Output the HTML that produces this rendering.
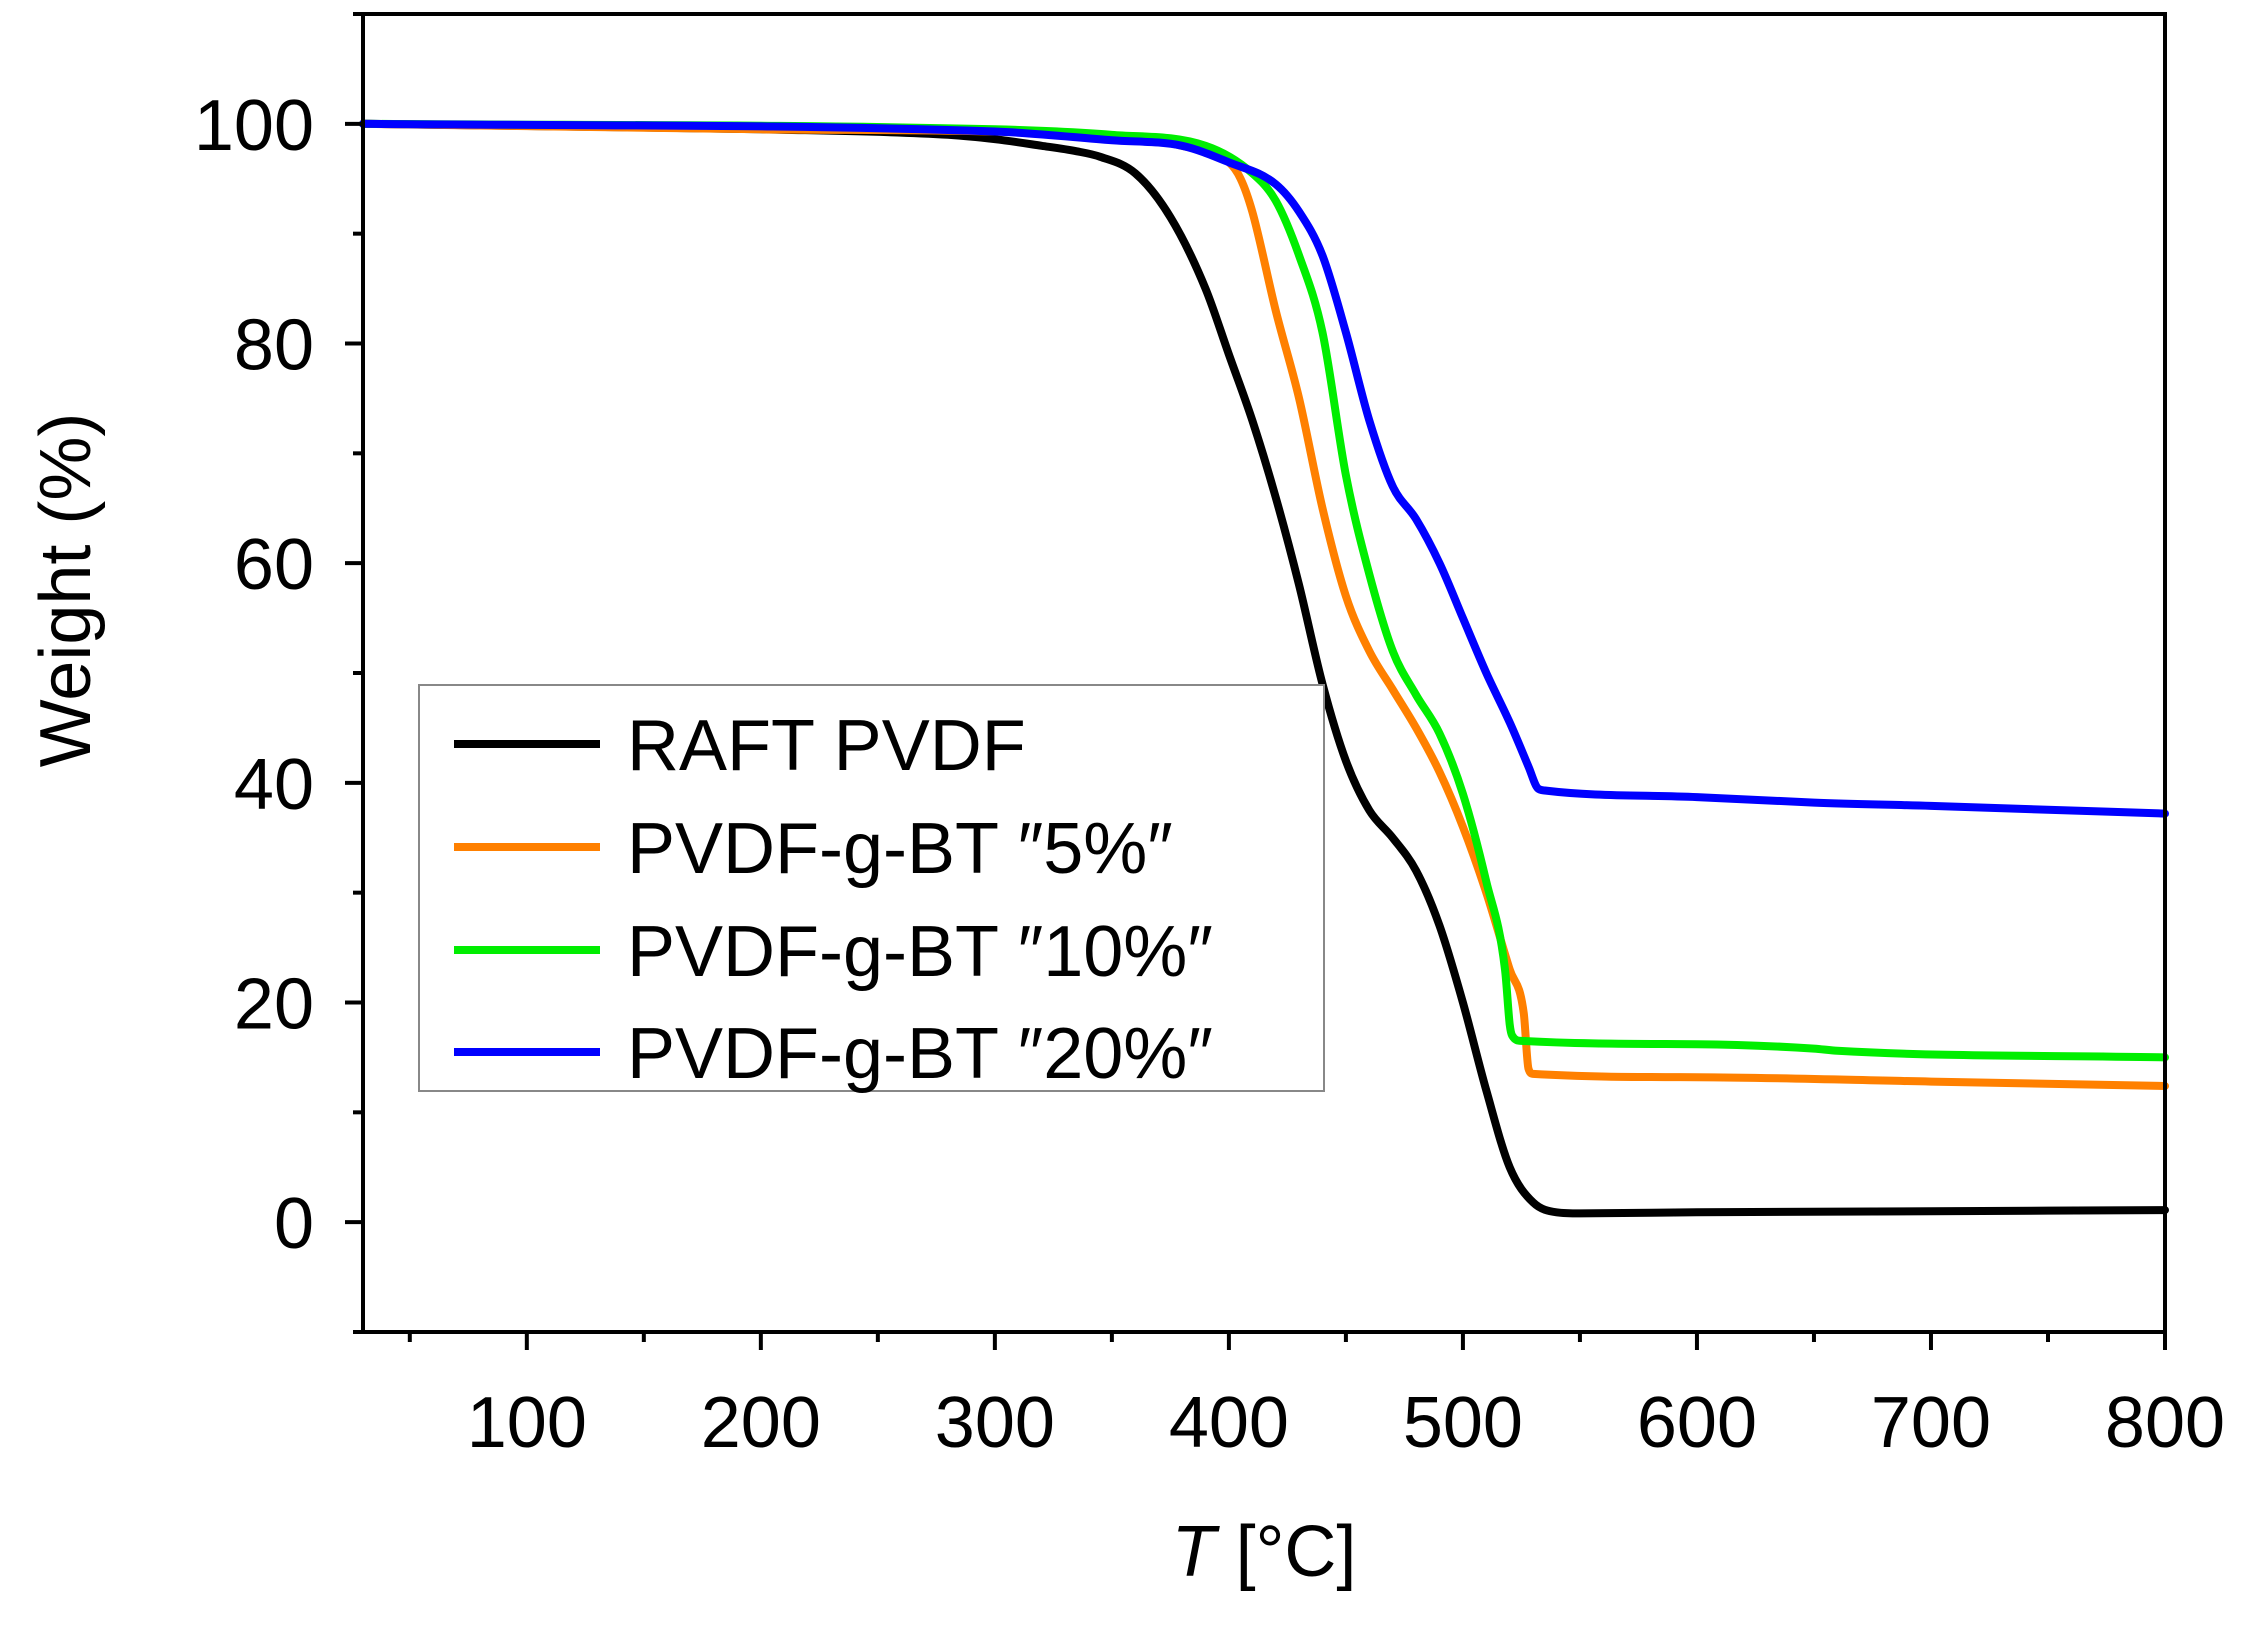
<!DOCTYPE html>
<html><head><meta charset="utf-8"><style>
html,body{margin:0;padding:0;background:#fff;}
svg{display:block;font-family:"Liberation Sans",Arial,sans-serif;}
</style></head><body>
<svg id="chart" width="2251" height="1628" viewBox="0 0 2251 1628" xmlns="http://www.w3.org/2000/svg"></svg>
<script>
const xTicks=[100,200,300,400,500,600,700,800];
const yTicks=[0,20,40,60,80,100];
const seriesNames=["RAFT PVDF","PVDF-g-BT \u20335%\u2033","PVDF-g-BT \u203310%\u2033","PVDF-g-BT \u203320%\u2033"];
const seriesColors=["#000000","#ff8000","#00ee00","#0000ff"];
const blackT=[30,100,200,280,300,320,335,345,360,375,390,400,410,420,430,440,450,460,470,480,490,500,510,520,530,540,550,600,700,800];
const blackW=[100,99.8,99.5,99,98.6,98,97.5,97,95.5,91.5,85,79,73,66,58,49,42,37.5,35,32,27,20,12,5,1.8,0.9,0.8,0.9,1,1.1];
const orangeT=[30,200,300,350,380,400,405,410,420,430,440,450,460,470,480,490,500,510,520,526,528,530,600,700,800];
const orangeW=[100,99.5,99.3,98.8,98,96.5,95,92,83,75,65,57,52,48.5,45,41,36,30,23,19,14,13.5,13.2,12.8,12.4];
const greenT=[30,300,350,390,410,420,430,440,450,460,470,480,490,500,510,518,520,521,525,600,650,660,800];
const greenW=[100,99.5,99,98,95.5,93,88,81,68,59,52,48,44.5,39,31,23,18,17,16.5,16.2,15.8,15.6,15];
const blueT=[30,300,350,380,400,420,430,440,450,460,470,480,490,500,510,520,528,532,535,600,650,700,800];
const blueW=[100,99.3,98.5,98,96.5,94.5,92,88,81,73,67,64,60,55,50,45.5,41.5,39.5,39.3,38.7,38.2,37.9,37.2];
const seriesT=[blackT,orangeT,greenT,blueT];
const seriesW=[blackW,orangeW,greenW,blueW];

const L=363,R=2165,T=14,B=1332,xmin=30,xmax=800,ymin=-10,ymax=110;
const sx=v=>L+(v-xmin)/(xmax-xmin)*(R-L);
const sy=v=>B-(v-ymin)/(ymax-ymin)*(B-T);
const NS="http://www.w3.org/2000/svg";
const svg=document.getElementById('chart');
function mk(tag,attrs,parent){const e=document.createElementNS(NS,tag);for(const k in attrs)e.setAttribute(k,attrs[k]);(parent||svg).appendChild(e);return e;}
function monotonePath(xs,ys){
  const n=xs.length,d=[],m=new Array(n);
  for(let i=0;i<n-1;i++)d.push((ys[i+1]-ys[i])/(xs[i+1]-xs[i]));
  m[0]=d[0];m[n-1]=d[n-2];
  for(let i=1;i<n-1;i++){m[i]=(d[i-1]*d[i]<=0)?0:(d[i-1]+d[i])/2;}
  for(let i=0;i<n-1;i++){
    if(d[i]===0){m[i]=0;m[i+1]=0;continue;}
    const a=m[i]/d[i],b=m[i+1]/d[i],s=a*a+b*b;
    if(s>9){const t=3/Math.sqrt(s);m[i]=t*a*d[i];m[i+1]=t*b*d[i];}
  }
  let p='M'+xs[0].toFixed(1)+' '+ys[0].toFixed(1);
  for(let i=0;i<n-1;i++){
    const h=(xs[i+1]-xs[i])/3;
    p+=' C'+(xs[i]+h).toFixed(1)+' '+(ys[i]+m[i]*h).toFixed(1)+' '+(xs[i+1]-h).toFixed(1)+' '+(ys[i+1]-m[i+1]*h).toFixed(1)+' '+xs[i+1].toFixed(1)+' '+ys[i+1].toFixed(1);
  }
  return p;
}

const gS=mk('g',{});


seriesT.forEach((ts,i)=>{
  const d=monotonePath(ts.map(sx),seriesW[i].map(sy));
  const p=mk('path',{d:d,fill:'none',stroke:seriesColors[i],'stroke-width':8,'stroke-linejoin':'round','stroke-linecap':'round'},gS);
  
  
});
const fr=mk('rect',{x:L,y:T,width:R-L,height:B-T,fill:'none',stroke:'#000','stroke-width':4});


for(let v=50;v<=800;v+=50){
  const major=v%100===0;
  const t=mk('line',{x1:sx(v),x2:sx(v),y1:B,y2:B+(major?18:10),stroke:'#000','stroke-width':4});
  
  
}
xTicks.forEach(v=>{
  const t=mk('text',{x:sx(v),y:1447,'text-anchor':'middle','font-size':72});
  t.textContent=v;
  
  
});
for(let v=-10;v<=110;v+=10){
  const major=v%20===0;
  const t=mk('line',{x1:L,x2:L-(major?18:10),y1:sy(v),y2:sy(v),stroke:'#000','stroke-width':4});
  
  
}
yTicks.forEach(v=>{
  const t=mk('text',{x:314,y:sy(v)+26,'text-anchor':'end','font-size':72});
  t.textContent=v;
  
  
});
const yt=mk('text',{x:0,y:0,'text-anchor':'middle','font-size':72,transform:'translate(90,590) rotate(-90)'});
yt.textContent='Weight (%)';


const xt=mk('text',{x:1264,y:1576,'text-anchor':'middle','font-size':72});
xt.innerHTML='<tspan font-style="italic">T</tspan> [°C]';


const lg=mk('g',{});


const lb=mk('rect',{x:419,y:685,width:905,height:406,fill:'#fff',stroke:'#888','stroke-width':2},lg);


const ly=[744,847,950,1052];
seriesNames.forEach((n,i)=>{
  const l=mk('line',{x1:454,x2:600,y1:ly[i],y2:ly[i],stroke:seriesColors[i],'stroke-width':8},lg);
  
  
  const t=mk('text',{x:627,y:ly[i]+26,'font-size':72},lg);
  t.textContent=n;
  
  
});
</script>
</body></html>
